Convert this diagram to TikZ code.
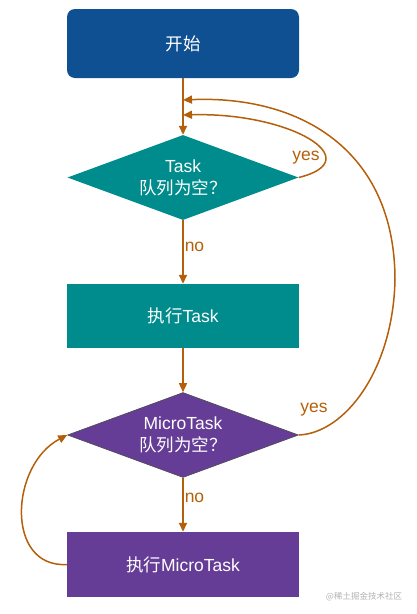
\documentclass[tikz,border=0pt]{standalone}
\usepackage{fontspec}
\setmainfont{Liberation Sans}
\newfontfamily\cjk{Noto Sans CJK SC}
\usetikzlibrary{arrows.meta,shapes.geometric}
\definecolor{startblue}{RGB}{14,80,145}
\definecolor{taskteal}{RGB}{0,140,140}
\definecolor{micropurple}{RGB}{102,61,150}
\definecolor{arrowbrown}{RGB}{180,95,10}
\tikzset{font=\fontsize{17.5}{22}\selectfont}
\tikzset{box/.style={rectangle, minimum width=232pt, minimum height=64pt, inner sep=0pt, text=white}}
\tikzset{decision/.style={diamond, aspect=2.7, minimum width=231pt, minimum height=85pt, inner sep=0pt, text=white, align=center}}
\tikzset{flow/.style={draw=arrowbrown, line width=1.5pt, -{Triangle[length=9pt,width=8pt]}}}
\tikzset{lbl/.style={text=arrowbrown, inner sep=1pt}}

\begin{document}
\begin{tikzpicture}[x=1pt,y=-1pt]
  \useasboundingbox (0,0) rectangle (416,614);

  \node[box, fill=startblue, rounded corners=8pt, minimum height=69pt] (start) at (183,43.5) {\cjk 开始};
  \node[decision, fill=taskteal] (d1) at (183,177.5) {Task\\{\cjk 队列为空？}};
  \node[box, fill=taskteal] (task) at (183,316) {{\cjk 执行}Task};
  \node[decision, fill=micropurple, draw=black!70, line width=0.6pt] (d2) at (183,435) {MicroTask\\{\cjk 队列为空？}};
  \node[box, fill=micropurple, minimum height=65pt] (micro) at (183,564.5) {{\cjk 执行}MicroTask};

  % where the loops come back in
  \coordinate (m1) at (183,100);
  \coordinate (m2) at (183,115);
  \coordinate (bend) at (395,280);

  \draw[flow] (start) -- (d1);
  \draw[flow] (d1) -- node[lbl, right, pos=0.42] (no1) {no} (task);
  \draw[flow] (task) -- (d2);
  \draw[flow] (d2) -- node[lbl, right, pos=0.38] (no2) {no} (micro);

  \draw[flow] (d1.east) .. controls (370,160) and (290,112) .. (m2);
  \draw[flow] (d2.east) .. controls (345,433) and (393,370) .. (bend)
                        .. controls (395,150) and (300,95) .. (m1);
  \draw[flow] (micro.west) .. controls (5,568) and (10,465) .. (d2.west);

  \node[lbl] (yes1) at (306,158) {yes};
  \node[lbl] (yes2) at (314,410) {yes};

  \node[text=gray!60, font=\fontsize{8.5}{10}\selectfont\cjk] (mark) at (364,597) {@稀土掘金技术社区};
\end{tikzpicture}
\end{document}
